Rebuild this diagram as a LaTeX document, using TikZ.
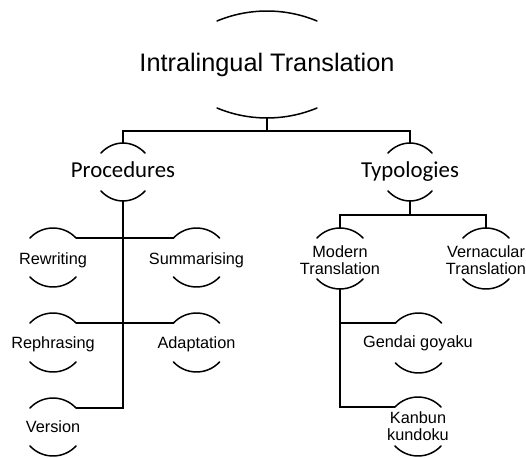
\documentclass[tikz,border=0pt]{standalone}
\usepackage{fontspec}
\setmainfont{Liberation Sans}
\newfontfamily\calfont{Carlito}
\begin{document}
\begin{tikzpicture}[x=1pt,y=-1pt,
  arcline/.style={line width=1.5pt,line cap=round},
  conn/.style={line width=1.5pt},
  lbl/.style={anchor=base,inner sep=0pt,align=center,font=\fontsize{16.3}{16.3}\selectfont},
  toplbl/.style={anchor=base,inner sep=0pt,font=\fontsize{25.3}{30}\selectfont},
  midlbl/.style={anchor=base,inner sep=0pt,font=\calfont\fontsize{22.8}{26}\selectfont}]
\useasboundingbox (0,0) rectangle (526,457);
% #1 name, #2 cx, #3 half width, #4 top end y, #5 bottom end y, #6 control x offset
\newcommand\arcpair[6]{%
  \coordinate (#1-tl) at (#2-#3,#4);
  \coordinate (#1-tr) at (#2+#3,#4);
  \coordinate (#1-t) at (#2,#4-10);
  \coordinate (#1-b) at (#2,#5+10);
  \draw[arcline] (#1-tl) .. controls +(#6,-13.3) and +(-#6,-13.3) .. (#1-tr);
  \draw[arcline] (#2-#3,#5) .. controls +(#6,13.3) and +(-#6,13.3) .. (#2+#3,#5);
}
% labels
\node[toplbl] (top) at (267,72) {Intralingual Translation};
\node[midlbl] (proc) at (123,177.5) {Procedures};
\node[midlbl] (typ) at (410,177.5) {Typologies};
\node[lbl] (rew) at (53,264) {Rewriting};
\node[lbl] (sum) at (196.5,264) {Summarising};
\node[lbl] (reph) at (53,348) {Rephrasing};
\node[lbl] (adap) at (196.5,348) {Adaptation};
\node[lbl] (vers) at (53,432.5) {Version};
\node[lbl] (mod) at (340,274) {Modern\\Translation};
\node[lbl] (vern) at (486,274) {Vernacular\\Translation};
\node[lbl] (gend) at (418,347) {Gendai goyaku};
\node[lbl] (kanb) at (418,440) {Kanbun\\kundoku};
% arcs
\arcpair{top}{267}{50}{21}{108}{31.9}
\arcpair{proc}{123}{22}{153}{191}{12.4}
\arcpair{typ}{410}{22}{153}{191}{12.4}
\arcpair{rew}{53}{23}{238}{277}{12.4}
\arcpair{sum}{196.5}{23}{238}{277}{12.4}
\arcpair{reph}{53}{23}{323}{362}{12.4}
\arcpair{adap}{196.5}{23}{323}{362}{12.4}
\arcpair{vers}{53}{23}{408}{446}{12.4}
\arcpair{mod}{340}{23}{238}{279}{12.4}
\arcpair{vern}{486}{23}{238}{279}{12.4}
\arcpair{gend}{418.5}{23}{323}{363}{12.4}
\arcpair{kanb}{418}{23}{407}{446}{12.4}
% connectors
\draw[conn] (top-b) -- ++(0,13) -| (proc-t);
\draw[conn] (top-b) ++(0,13) -| (typ-t);
\draw[conn] (proc-b) |- (vers-tr);
\draw[conn] (rew-tr) -- (sum-tl);
\draw[conn] (reph-tr) -- (adap-tl);
\draw[conn] (typ-b) -- ++(0,14) -| (mod-t);
\draw[conn] (typ-b) ++(0,14) -| (vern-t);
\draw[conn] (mod-b) |- (kanb-tl);
\draw[conn] (mod-b |- gend-tl) -- (gend-tl);
\end{tikzpicture}
\end{document}
